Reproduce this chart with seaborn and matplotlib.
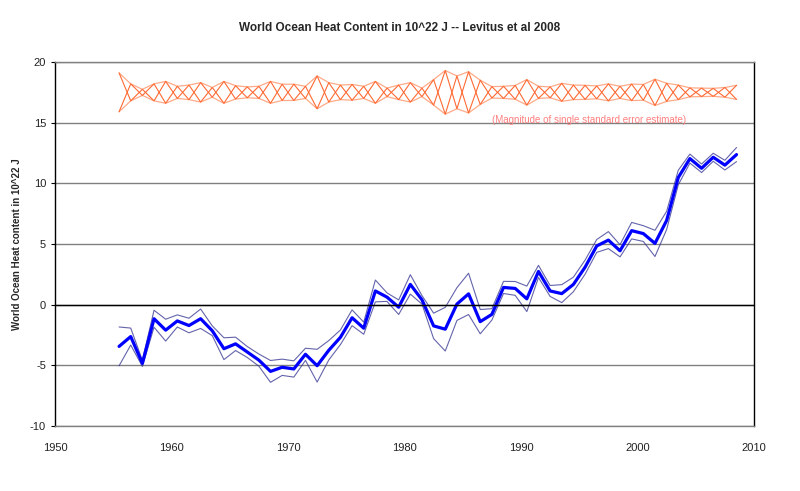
import numpy as np
import pandas as pd
import matplotlib
matplotlib.use("Agg")
import matplotlib.pyplot as plt
import seaborn as sns

# yearly values (10^22 J), plotted at mid-year
years = list(range(1955, 2009))
heat = [-3.44, -2.63, -4.84, -1.16, -2.10, -1.34, -1.72, -1.16, -2.15, -3.63,
        -3.23, -3.90, -4.57, -5.50, -5.16, -5.30, -4.09, -5.03, -3.76, -2.69,
        -1.08, -1.94, 1.13, 0.62, -0.21, 1.67, 0.40, -1.75, -2.02, 0.05,
        0.89, -1.40, -0.80, 1.42, 1.34, 0.48, 2.74, 1.13, 0.91, 1.67,
        3.09, 4.84, 5.32, 4.44, 6.10, 5.86, 5.05, 6.94, 10.48, 12.04,
        11.24, 12.15, 11.50, 12.37]
# single standard error estimate
stderr = [1.60, 0.70, 0.25, 0.70, 0.90, 0.50, 0.60, 0.80, 0.40, 0.90,
          0.55, 0.45, 0.50, 0.90, 0.67, 0.67, 0.50, 1.35, 0.80, 0.60,
          0.65, 0.50, 0.90, 0.35, 0.60, 0.80, 0.35, 1.05, 1.80, 1.35,
          1.70, 1.00, 0.47, 0.50, 0.57, 1.05, 0.50, 0.45, 0.74, 0.60,
          0.58, 0.53, 0.70, 0.50, 0.68, 0.65, 1.08, 0.75, 0.60, 0.37,
          0.35, 0.33, 0.40, 0.58]
band_center = 17.5

df = pd.DataFrame({"year": np.array(years) + 0.5, "heat": heat, "err": stderr})
df["upper"] = df["heat"] + df["err"]
df["lower"] = df["heat"] - df["err"]
sign = np.where(np.arange(len(df)) % 2 == 0, 1, -1)
df["band_hi"] = band_center + df["err"]
df["band_lo"] = band_center - df["err"]
df["zig_a"] = band_center + df["err"] * sign
df["zig_b"] = band_center - df["err"] * sign

sns.set_style("white")
plt.rcParams["font.family"] = ["Liberation Sans", "DejaVu Sans"]
plt.rcParams["axes.unicode_minus"] = False

fig = plt.figure(figsize=(8, 4.91), dpi=100)
ax = fig.add_axes([0.06875, 0.1324, 0.87375, 0.7413])

# error magnitude band
sns.lineplot(data=df, x="year", y="band_hi", ax=ax, color="#FFAA88", lw=0.9)
sns.lineplot(data=df, x="year", y="band_lo", ax=ax, color="#FFAA88", lw=0.9)
sns.lineplot(data=df, x="year", y="zig_a", ax=ax, color="#FF6A33", lw=0.8)
sns.lineplot(data=df, x="year", y="zig_b", ax=ax, color="#FF6A33", lw=0.8)

# heat content with +/- one standard error
sns.lineplot(data=df, x="year", y="upper", ax=ax, color="#303090", lw=0.8, alpha=0.75)
sns.lineplot(data=df, x="year", y="lower", ax=ax, color="#303090", lw=0.8, alpha=0.75)
sns.lineplot(data=df, x="year", y="heat", ax=ax, color="#0000FF", lw=2.3)

ax.text(1995.8, 15.2, "(Magnitude of single standard error estimate)",
        color="#FF7F7F", fontsize=7, ha="center", va="center")

ax.set_xlim(1950, 2010)
ax.set_ylim(-10, 20)
ax.set_xticks(range(1950, 2011, 10))
ax.set_yticks(range(-10, 21, 5))
ax.yaxis.grid(True, color="#808080", lw=1)
ax.axhline(0, color="black", lw=1)
ax.tick_params(axis="both", labelsize=8, labelcolor="#222222", length=3,
               color="black", direction="out", bottom=True, left=True)
ax.tick_params(axis="x", pad=12, length=0)
ax.set_xlabel("")
ax.set_ylabel("World Ocean Heat content in 10^22 J", fontsize=7, fontweight="bold")
ax.yaxis.set_label_coords(-0.047, 0.5)

for side in ["left", "right"]:
    ax.spines[side].set_color("black")
    ax.spines[side].set_linewidth(1)
for side in ["top", "bottom"]:
    ax.spines[side].set_color("#808080")
    ax.spines[side].set_linewidth(1)

fig.text(0.5, 0.943, "World Ocean Heat Content in 10^22 J -- Levitus et al 2008",
         ha="center", va="center", fontsize=8.5, fontweight="bold")

fig.savefig("out.png", dpi=100)
